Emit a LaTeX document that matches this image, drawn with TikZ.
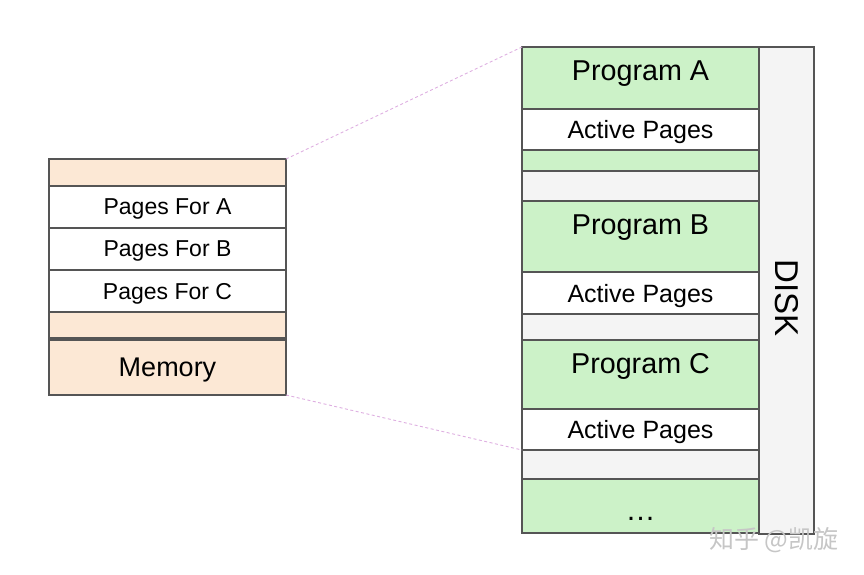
\documentclass[tikz,border=0pt]{standalone}
\usepackage{fontspec}
\setmainfont{Liberation Sans}
\newfontfamily\cjk{Noto Sans CJK SC}
\usetikzlibrary{positioning}
\definecolor{edge}{RGB}{85,85,85}
\definecolor{peach}{RGB}{252,232,213}
\definecolor{progreen}{RGB}{204,242,200}
\definecolor{diskgray}{RGB}{244,244,244}
\definecolor{linkpink}{RGB}{222,175,225}
\tikzstyle{cell} = [draw=edge, line width=1.2pt, inner sep=0pt, outer sep=0pt, minimum width=237pt, text depth=0pt]
\tikzstyle{mem} = [cell, fill=peach]
\tikzstyle{page} = [cell, fill=white]
\tikzstyle{prog} = [cell, fill=progreen]
\tikzstyle{gap} = [cell, fill=diskgray]
\tikzstyle{progtext} = [anchor=base, yshift=-33.5pt, font=\fontsize{28.7}{30}\selectfont]
\tikzstyle{link} = [draw=linkpink, line width=0.9pt, dash pattern=on 3pt off 2.5pt]

\begin{document}
\begin{tikzpicture}[x=1pt, y=-1pt]
	\useasboundingbox (0,0) rectangle (864,574);
	
	% memory
	\node [mem, minimum height=27pt, anchor=north west] (freetop) at (49,159) {};
	\node [page, minimum height=42pt, below=0pt of freetop, font=\fontsize{23}{23}\selectfont] (pagesA) {Pages For A};
	\node [page, minimum height=42pt, below=0pt of pagesA, font=\fontsize{23}{23}\selectfont] (pagesB) {Pages For B};
	\node [page, minimum height=42pt, below=0pt of pagesB, font=\fontsize{23}{23}\selectfont] (pagesC) {Pages For C};
	\node [mem, minimum height=26pt, below=0pt of pagesC] (freebot) {};
	\node [mem, minimum height=55pt, below=2pt of freebot, font=\fontsize{27}{27}\selectfont] (memory) {Memory};
	
	% disk
	\node [gap, minimum width=55pt, minimum height=487pt, anchor=north west] (disk) at (759,47) {};
	\node [rotate=-90, font=\fontsize{33}{33}\selectfont] (disktext) at ([yshift=-7.5pt]disk.center) {DISK};
	
	\node [prog, minimum height=62pt, anchor=north west, label={[progtext]north:Program A}] (progA) at (522,47) {};
	\node [page, minimum height=41pt, below=0pt of progA, font=\fontsize{25}{25}\selectfont] (activeA) {Active Pages};
	\node [prog, minimum height=21pt, below=0pt of activeA] (tailA) {};
	\node [gap, minimum height=30pt, below=0pt of tailA] (gapA) {};
	
	\node [prog, minimum height=71pt, below=0pt of gapA, label={[progtext]north:Program B}] (progB) {};
	\node [page, minimum height=42pt, below=0pt of progB, font=\fontsize{25}{25}\selectfont] (activeB) {Active Pages};
	\node [gap, minimum height=26pt, below=0pt of activeB] (gapB) {};
	
	\node [prog, minimum height=69pt, below=0pt of gapB, label={[progtext]north:Program C}] (progC) {};
	\node [page, minimum height=41pt, below=0pt of progC, font=\fontsize{25}{25}\selectfont] (activeC) {Active Pages};
	\node [gap, minimum height=29pt, below=0pt of activeC] (gapC) {};
	
	\node [prog, minimum height=54pt, below=0pt of gapC, label={[progtext, yshift=-8pt, font=\fontsize{30}{30}\selectfont]north:…}] (more) {};
	
	\path [link] (freetop.north east) to (progA.north west);
	\path [link] (memory.south east) to (activeC.south west);
	
	\node [text=gray!45, font=\cjk\fontsize{25}{25}\selectfont] (watermark) at (774,540) {知乎 @凯旋};
\end{tikzpicture}
\end{document}
